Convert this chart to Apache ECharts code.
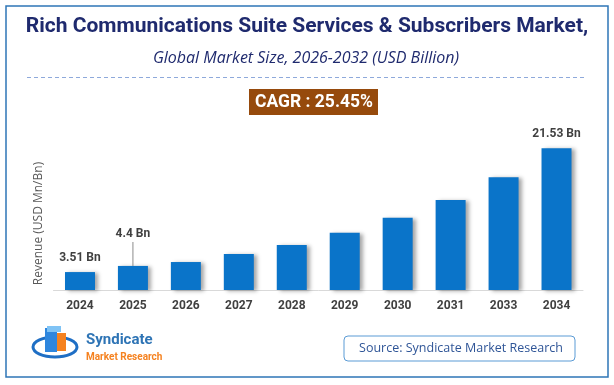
<!DOCTYPE html>
<html>
<head>
<meta charset="utf-8">
<script src="https://cdn.jsdelivr.net/npm/echarts@6/dist/echarts.min.js"></script>
<style>
html,body{margin:0;padding:0;background:#fff;}
#chart{width:614px;height:385px;}
</style>
</head>
<body>
<div id="chart"></div>
<script>
var categories = ['2024','2025','2026','2027','2028','2029','2030','2031','2033','2034'];
var values = [3.51, 4.4, 4.97, 6.13, 7.44, 9.23, 11.41, 13.98, 17.32, 21.53];
var labelTexts = ['3.51 Bn', '4.4 Bn', '', '', '', '', '', '', '', '21.53 Bn'];
var titleText = 'Rich Communications Suite Services & Subscribers Market,';
var subtitleText = 'Global Market Size, 2026-2032 (USD Billion)';
var cagrText = 'CAGR : 25.45%';
var yAxisName = 'Revenue (USD Mn/Bn)';
var sourceText = 'Source: Syndicate Market Research';

var chart = echarts.init(document.getElementById('chart'), null, {renderer:'canvas'});

var seriesData = values.map(function (v, i) {
  var item = { value: v };
  if (labelTexts[i]) {
    if (i === 1) {
      item.label = { show: true, distance: 0, formatter: '{t|' + labelTexts[i] + '}\n{l|}' };
    } else {
      item.label = { show: true, formatter: '{t|' + labelTexts[i] + '}' };
    }
  }
  return item;
});

var option = {
  backgroundColor: '#ffffff',
  animation: false,
  grid: { left: 53.5, right: 31, top: 145, height: 145, containLabel: false },
  xAxis: {
    type: 'category',
    data: categories,
    axisLine: { show: true, lineStyle: { color: '#d9d9d9', width: 1 } },
    axisTick: { show: false },
    axisLabel: { color: '#404040', fontSize: 12, fontWeight: 'bold', fontFamily: 'Roboto', margin: 10 }
  },
  yAxis: {
    type: 'value',
    min: 0.9,
    max: 22,
    name: yAxisName,
    nameLocation: 'middle',
    nameGap: 9,
    nameRotate: 90,
    nameTextStyle: { color: '#595959', fontSize: 12, fontFamily: 'Open Sans', padding: [0, 12, 0, 0] },
    axisLine: { show: false },
    axisTick: { show: false },
    axisLabel: { show: false },
    splitLine: { show: false }
  },
  series: [{
    type: 'bar',
    data: seriesData,
    barWidth: 30,
    itemStyle: {
      color: '#0A74C9',
      shadowColor: 'rgba(0,0,0,0.35)',
      shadowBlur: 4,
      shadowOffsetX: 3,
      shadowOffsetY: 1
    },
    label: {
      show: false,
      position: 'top',
      distance: 7,
      rich: {
        t: { color: '#404040', fontSize: 12, fontWeight: 'bold', fontFamily: 'Roboto', lineHeight: 15 },
        l: { width: 1, height: 24, backgroundColor: '#8c8c8c' }
      }
    }
  }],
  graphic: [
    { type: 'rect', shape: { x: 6, y: 6, width: 602, height: 371 }, style: { fill: 'none', stroke: '#2E75B6', lineWidth: 1.5 }, silent: true },
    { type: 'text', x: 307, y: 27, style: { text: titleText, fill: '#1F2A6E', font: 'bold 21px Roboto', align: 'center', verticalAlign: 'middle' } },
    { type: 'text', x: 306, y: 58, style: { text: subtitleText, fill: '#1F2A6E', font: 'italic 16px "Open Sans"', align: 'center', verticalAlign: 'middle' } },
    { type: 'line', shape: { x1: 27, y1: 77.5, x2: 587, y2: 77.5 }, style: { stroke: '#8EA9DB', lineWidth: 1, lineDash: [4, 3] } },
    { type: 'rect', shape: { x: 249, y: 89, width: 129, height: 26 }, style: { fill: '#964A0C' } },
    { type: 'text', x: 314, y: 102.5, style: { text: cagrText, fill: '#ffffff', font: 'bold 17.5px Roboto', align: 'center', verticalAlign: 'middle' } },
    { type: 'rect', shape: { x: 344, y: 336, width: 231, height: 25, r: 4 }, style: { fill: '#ffffff', stroke: '#5B9BD5', lineWidth: 1 } },
    { type: 'text', x: 461, y: 348.5, style: { text: sourceText, fill: '#2F5597', font: '12.5px "Open Sans"', align: 'center', verticalAlign: 'middle' } },
    // logo
    { type: 'ellipse', shape: { cx: 55, cy: 347, rx: 22, ry: 10 }, style: { fill: 'none', stroke: '#1F6FC5', lineWidth: 3 } },
    { type: 'rect', shape: { x: 45, y: 328, width: 12, height: 24 }, style: { fill: '#2E86DE' } },
    { type: 'rect', shape: { x: 47, y: 326, width: 14, height: 6 }, style: { fill: '#7FC3F5' } },
    { type: 'rect', shape: { x: 57, y: 333, width: 9, height: 18 }, style: { fill: '#F58220' } },
    { type: 'text', x: 86, y: 340, style: { text: 'Syndicate', fill: '#2E74B5', font: 'bold 15px Roboto', align: 'left', verticalAlign: 'middle' } },
    { type: 'text', x: 86, y: 357, style: { text: 'Market Research', fill: '#F58220', font: 'bold 10px Roboto', align: 'left', verticalAlign: 'middle' } }
  ]
};
chart.setOption(option);
</script>
</body>
</html>
